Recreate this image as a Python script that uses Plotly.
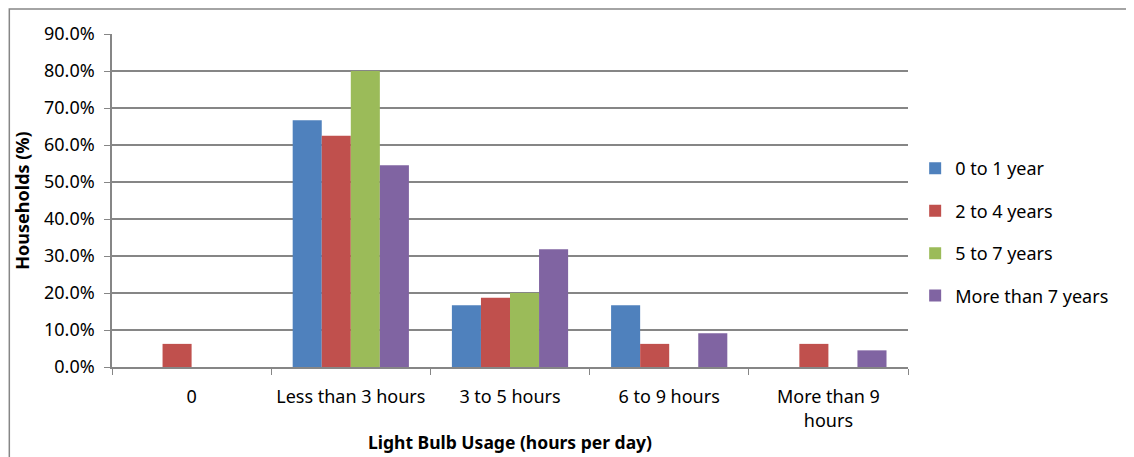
import plotly.graph_objects as go

categorias = ["0", "Less than 3 hours", "3 to 5 hours", "6 to 9 hours", "More than 9<br>hours"]
series = ["0 to 1 year", "2 to 4 years", "5 to 7 years", "More than 7 years"]
colores = ["#4F81BD", "#C0504D", "#9BBB59", "#8064A2"]

uno_anio = [0.0, 0.667, 0.167, 0.167, 0.0]
dos_cuatro = [0.0625, 0.625, 0.1875, 0.0625, 0.0625]
cinco_siete = [0.0, 0.80, 0.20, 0.0, 0.0]
mas_siete = [0.0, 0.545, 0.318, 0.091, 0.045]

valores = [uno_anio, dos_cuatro, cinco_siete, mas_siete]

fig = go.Figure()
for i, nombre in enumerate(series):
    fig.add_trace(go.Bar(x=categorias, y=valores[i], name=nombre,
                         marker=dict(color=colores[i], line=dict(width=0)),
                         legendgroup=nombre))

fuente = "Noto Sans, Open Sans, sans-serif"

# el body del html tiene 8px de margen, por eso l/t son 8px menores
fig.update_layout(
    width=1134, height=457,
    paper_bgcolor="white", plot_bgcolor="white",
    margin=dict(l=104, r=234, t=26, b=98),
    barmode="group", bargap=0.27, bargroupgap=0,
    font=dict(family=fuente, size=18, color="#000000"),
    legend=dict(x=1.009, y=0.405, yanchor="middle", xanchor="left",
                tracegroupgap=16, font=dict(size=18)),
    showlegend=True,
)

fig.update_xaxes(
    title=dict(text="<b>Light Bulb Usage (hours per day)</b>", font=dict(size=17.5), standoff=6),
    showline=True, linecolor="#868686", linewidth=1.5,
    ticks="outside", tickson="boundaries", ticklen=6, tickcolor="#868686",
    ticklabelstandoff=13,
    showgrid=False,
)
fig.update_yaxes(
    title=dict(text="<b>Households (%)</b>", font=dict(size=18), standoff=10),
    range=[0, 0.9], dtick=0.1, tickformat=".1%",
    showline=True, linecolor="#868686", linewidth=1.5,
    ticks="outside", ticklen=6, tickcolor="#868686",
    ticklabelstandoff=6,
    showgrid=True, gridcolor="#868686", gridwidth=1.5,
    zeroline=False,
)

# marco exterior del grafico
fig.add_shape(type="rect", xref="paper", yref="paper",
              x0=-0.129, x1=1.6, y0=-0.6, y1=1.075,
              line=dict(color="#868686", width=1.5), layer="below")

fig.write_html("out.html")
